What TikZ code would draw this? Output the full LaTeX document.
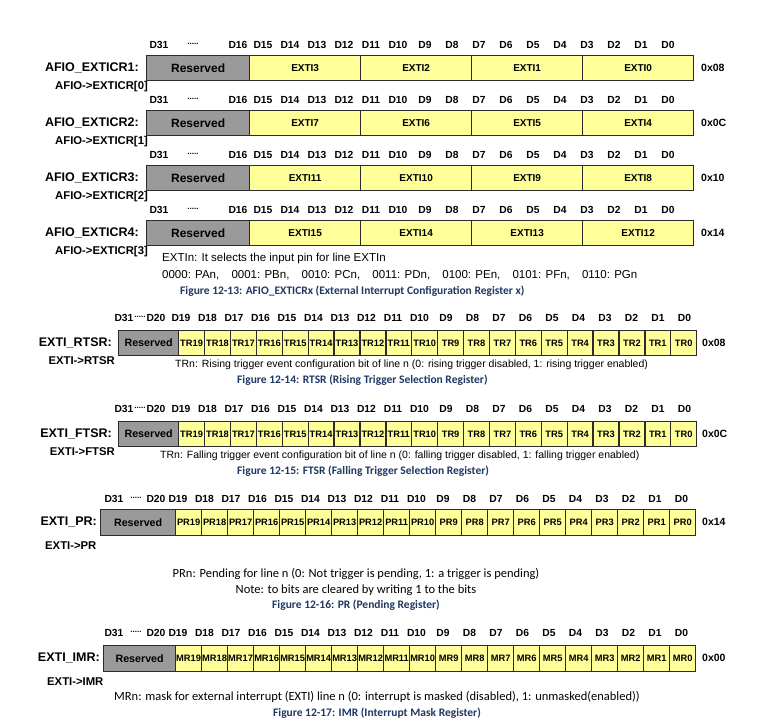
\documentclass[tikz,border=0pt]{standalone}
\usepackage{fontspec}
\setmainfont{Liberation Sans}
\newfontfamily\calfont{Carlito}
\usepackage{tikz}
\definecolor{regyellow}{HTML}{FFFF99}
\definecolor{reggray}{HTML}{9A9A9A}
\definecolor{regline}{HTML}{2B2B2B}
\definecolor{capblue}{HTML}{1F3864}
\def\fs#1{\fontsize{#1}{#1}\selectfont}
\tikzset{
	box/.style={draw=regline, line width=1.3pt, inner sep=0pt, anchor=north west, minimum height=25pt},
	resbox/.style={box, fill=reggray, font=\bfseries\fs{12}},
	fieldbox/.style={box, fill=regyellow, minimum width=111pt, font=\bfseries\fs{10}},
	bitbox/.style={box, fill=regyellow, font=\bfseries\fs{9.3}},
	hdr/.style={font=\bfseries\fs{10.3}, inner sep=0pt},
	regname/.style={font=\bfseries\fs{12.5}, anchor=east, inner sep=0pt},
	regsub/.style={font=\bfseries\fs{11.3}, inner sep=0pt},
	addr/.style={font=\bfseries\fs{10.5}, anchor=west, inner sep=0pt},
	desc/.style={font=\fs{11.5}, anchor=west, inner sep=0pt},
	note/.style={font=\calfont\fs{12.5}, inner sep=0pt},
	figcap/.style={font=\calfont\bfseries\fs{11.5}, text=capblue, inner sep=0pt}
}
% AFIO_EXTICRx: index, top, address
\def\exticr#1#2#3{
	\node[hdr] (c#1d31) at (159,#2-10) {D31};
	\node[hdr, font=\bfseries\fs{8}] (c#1dots) at (193,#2-11) {.....};
	\node[hdr] (c#1d16) at (238,#2-10) {D16};
	\foreach \k in {0,...,15}
		\node[hdr] (c#1d\k) at ({263+27*(15-\k)},#2-10) {D\k};
	\node[regname] (c#1name) at (139,#2+12.5) {AFIO\_EXTICR\the\numexpr#1+1\relax:};
	\node[regsub, anchor=east] (c#1sub) at (148,#2+32) {AFIO->EXTICR[#1]};
	\node[resbox, minimum width=103pt] (c#1res) at (146,#2) {Reserved};
	\foreach \f in {0,...,3}{
		\pgfmathtruncatemacro\n{4*#1+3-\f}
		\node[fieldbox] (c#1f\f) at ({249+111*\f},#2) {EXTI\n};
	}
	\node[addr] (c#1addr) at (701,#2+12.5) {#3};
}
% 20-bit EXTI register: prefix, top, bit text, reserved x, bits x, bit width, height
\def\bitreg#1#2#3#4#5#6#7{
	\node[resbox, minimum width={(#5-#4)*1pt}, minimum height=#7pt, font=\bfseries\fs{10.7}] (#1res) at (#4,#2) {Reserved};
	\foreach \b in {0,...,19}
		\node[bitbox, minimum width=#6pt, minimum height=#7pt] (#1b\b) at ({#5+#6*(19-\b)},#2) {#3\b};
}
% header row: prefix, y, D31 x, dots x, D20 x, D19 x
\def\bithdr#1#2#3#4#5#6{
	\node[hdr] (#1d31) at (#3,#2) {D31};
	\node[hdr, font=\bfseries\fs{8}] (#1dots) at (#4,#2-1) {.....};
	\node[hdr] (#1d20) at (#5,#2) {D20};
	\foreach \k in {0,...,19}
		\node[hdr] (#1d\k) at ({#6+26.5*(19-\k)},#2) {D\k};
}

\begin{document}
\begin{tikzpicture}[x=1pt,y=-1pt]
	%%%%% START %%%%%
	\fill[white] (0,0) rectangle (760,727);
	\useasboundingbox (0,0) rectangle (760,727);
	
	\exticr{0}{55}{0x08}
	\exticr{1}{110}{0x0C}
	\exticr{2}{165}{0x10}
	\exticr{3}{220}{0x14}
	
	\node[desc] (selnote) at (162,259) {EXTIn: It selects the input pin for line EXTIn};
	\node[desc] (pinlist) at (162,275) {0000: PAn,\hspace{9pt} 0001: PBn,\hspace{9pt} 0010: PCn,\hspace{9pt} 0011: PDn,\hspace{9pt} 0100: PEn,\hspace{9pt} 0101: PFn,\hspace{9pt} 0110: PGn};
	\node[figcap, anchor=west] (cap13) at (180,291) {Figure 12-13: AFIO\_EXTICRx (External Interrupt Configuration Register x)};
	
	% RTSR
	\bithdr{r}{318}{124}{140}{156}{181}
	\node[regname] (rname) at (112,342.5) {EXTI\_RTSR:};
	\node[regsub, anchor=east] (rsub) at (115,361) {EXTI->RTSR};
	\bitreg{r}{330}{TR}{118}{178}{25.9}{25}
	\node[addr] (raddr) at (702,342.5) {0x08};
	\node[desc, font=\fs{10.5}] (rnote) at (175,365) {TRn: Rising trigger event configuration bit of line n (0: rising trigger disabled, 1: rising trigger enabled)};
	\node[figcap, anchor=west] (cap14) at (237,380) {Figure 12-14: RTSR (Rising Trigger Selection Register)};
	
	% FTSR
	\bithdr{f}{409}{124}{140}{156}{181}
	\node[regname] (fname) at (112,433.5) {EXTI\_FTSR:};
	\node[regsub, anchor=east] (fsub) at (115,452) {EXTI->FTSR};
	\bitreg{f}{421}{TR}{118}{178}{25.9}{25}
	\node[addr] (faddr) at (702,433.5) {0x0C};
	\node[desc, font=\fs{10.5}] (fnote) at (160,456) {TRn: Falling trigger event configuration bit of line n (0: falling trigger disabled, 1: falling trigger enabled)};
	\node[figcap, anchor=west] (cap15) at (237,471) {Figure 12-15: FTSR (Falling Trigger Selection Register)};
	
	% PR
	\bithdr{p}{499}{114}{136}{156}{178}
	\node[regname] (pname) at (97,522) {EXTI\_PR:};
	\node[regsub, anchor=west] (psub) at (45,546) {EXTI->PR};
	\bitreg{p}{509}{PR}{100}{175}{26}{26}
	\node[addr] (paddr) at (702,522) {0x14};
	\node[note] (pnote) at (356,574) {PRn: Pending for line n (0: Not trigger is pending, 1: a trigger is pending)};
	\node[note] (pclear) at (356,590) {Note: to bits are cleared by writing 1 to the bits};
	\node[figcap] (cap16) at (356,605) {Figure 12-16: PR (Pending Register)};
	
	% IMR
	\bithdr{m}{633}{114}{136}{156}{178}
	\node[regname] (mname) at (100,658) {EXTI\_IMR:};
	\node[regsub, anchor=west] (msub) at (47,682) {EXTI->IMR};
	\bitreg{m}{645}{MR}{103}{175}{26}{26}
	\node[addr] (maddr) at (702,658) {0x00};
	\node[note] (mnote) at (377,697) {MRn: mask for external interrupt (EXTI) line n (0: interrupt is masked (disabled), 1: unmasked(enabled))};
	\node[figcap] (cap17) at (377,713) {Figure 12-17: IMR (Interrupt Mask Register)};
	%%%%% END %%%%%
\end{tikzpicture}
\end{document}
